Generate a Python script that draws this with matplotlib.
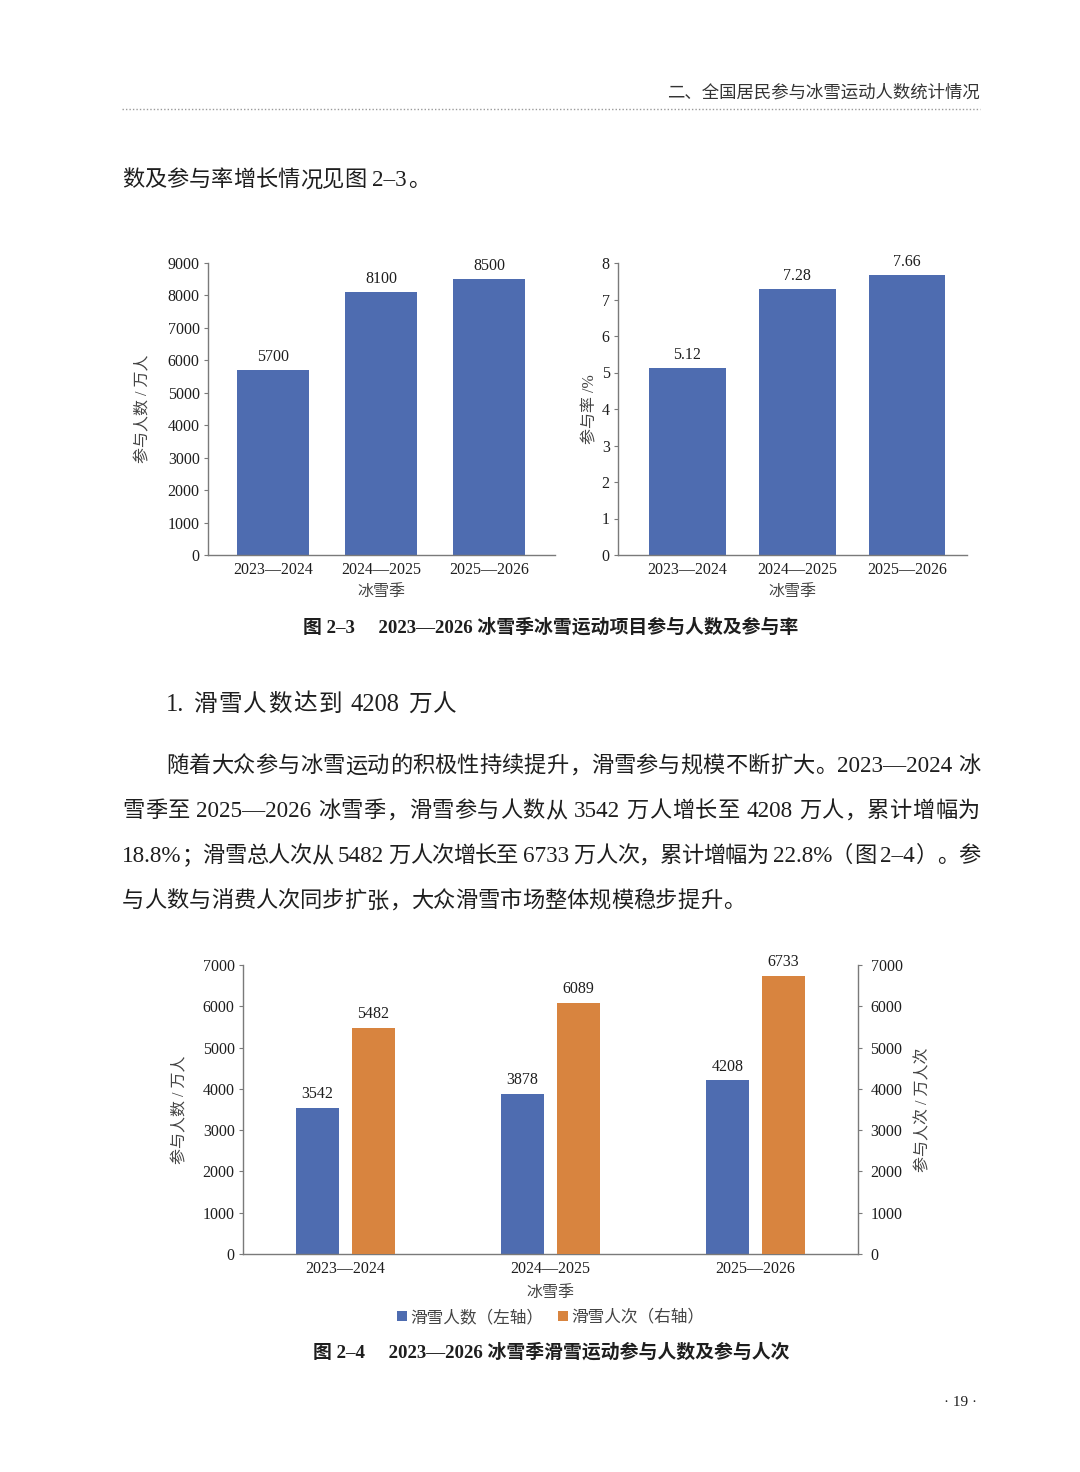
import re
import matplotlib
matplotlib.use('Agg')
import matplotlib.pyplot as plt
from matplotlib.lines import Line2D

plt.rcParams['font.family'] = ['Liberation Serif', 'Noto Sans CJK SC']

# ---------------- data ----------------
seasons = ['2023—2024', '2024—2025', '2025—2026']
participants = [5700, 8100, 8500]          # 万人
participation_rate = [5.12, 7.28, 7.66]    # %
ski_people = [3542, 3878, 4208]            # 万人 (left axis)
ski_visits = [5482, 6089, 6733]            # 万人次 (right axis)
people_ticks = list(range(0, 9001, 1000))
rate_ticks = list(range(0, 9))
ski_ticks = list(range(0, 7001, 1000))

W, H = 1080, 1472
fig = plt.figure(figsize=(W / 100, H / 100), dpi=100)
fig.patch.set_facecolor('white')

BLUE = '#4E6CB0'
ORANGE = '#D8843F'
SPINE = '#7a7a7a'
TXT = '#1e1e1e'
LBL = '#444444'


def fx(px):
    return px / W


def fy(py):
    return 1 - py / H


def rect(l, t, r, b):
    return [fx(l), fy(b), fx(r) - fx(l), fy(t) - fy(b)]


def style(ax, right=False):
    for s in ['top', 'right']:
        ax.spines[s].set_visible(False)
    for s in ['left', 'bottom']:
        ax.spines[s].set_color(SPINE)
        ax.spines[s].set_linewidth(1.0)
    ax.tick_params(axis='y', direction='out', length=3, width=0.8, color=SPINE,
                   labelsize=11.5, labelcolor=TXT, pad=3)
    ax.tick_params(axis='x', length=0, labelsize=11.5, labelcolor=TXT, pad=5)


# ---------------- chart 2-3 left ----------------
ax1 = fig.add_axes(rect(208, 263, 555, 555))
x = list(range(len(seasons)))
b1 = ax1.bar(x, participants, width=0.67, color=BLUE)
ax1.set_xlim(-0.602, 2.611)
ax1.set_ylim(0, 9000)
ax1.set_yticks(people_ticks)
ax1.set_xticks(x)
ax1.set_xticklabels(seasons)
style(ax1)
ax1.bar_label(b1, padding=4, fontsize=11.5, color=TXT)
ax1.set_ylabel('参与人数 / 万人', fontsize=11.5, color=LBL)
ax1.yaxis.set_label_coords(-0.187, 0.5)
ax1.yaxis.label.set_va('center')
ax1.set_xlabel('冰雪季', fontsize=11.5, color=LBL)
ax1.xaxis.set_label_coords(0.5, -0.127)
ax1.xaxis.label.set_va('center')

# ---------------- chart 2-3 right ----------------
ax2 = fig.add_axes(rect(618, 263, 967, 555))
b2 = ax2.bar(x, participation_rate, width=0.70, color=BLUE)
ax2.set_xlim(-0.63, 2.546)
ax2.set_ylim(0, 8)
ax2.set_yticks(rate_ticks)
ax2.set_xticks(x)
ax2.set_xticklabels(seasons)
style(ax2)
ax2.bar_label(b2, padding=4, fontsize=11.5, color=TXT)
ax2.set_ylabel('参与率 /%', fontsize=11.5, color=LBL)
ax2.yaxis.set_label_coords(-0.08, 0.5)
ax2.yaxis.label.set_va('center')
ax2.set_xlabel('冰雪季', fontsize=11.5, color=LBL)
ax2.xaxis.set_label_coords(0.5, -0.127)
ax2.xaxis.label.set_va('center')

# ---------------- chart 2-4 ----------------
ax3 = fig.add_axes(rect(243, 965, 858, 1254))
ax3b = ax3.twinx()
off, bw = 0.136, 0.21
b3 = ax3.bar([i - off for i in x], ski_people, width=bw, color=BLUE, label='滑雪人数（左轴）')
b4 = ax3b.bar([i + off for i in x], ski_visits, width=bw, color=ORANGE, label='滑雪人次（右轴）')
for a in (ax3, ax3b):
    a.set_xlim(-0.5, 2.5)
    a.set_ylim(0, 7000)
    a.set_yticks(ski_ticks)
style(ax3)
ax3.set_xticks(x)
ax3.set_xticklabels(seasons)
for s in ['top', 'left', 'bottom']:
    ax3b.spines[s].set_visible(False)
ax3b.spines['right'].set_color(SPINE)
ax3b.spines['right'].set_linewidth(1.0)
ax3b.tick_params(axis='y', direction='out', length=3, width=0.8, color=SPINE,
                 labelsize=11.5, labelcolor=TXT, pad=6)
ax3.bar_label(b3, padding=4, fontsize=11.5, color=TXT)
ax3b.bar_label(b4, padding=4, fontsize=11.5, color=TXT)
ax3.set_ylabel('参与人数 / 万人', fontsize=11.5, color=LBL)
ax3.yaxis.set_label_coords(-0.102, 0.5)
ax3.yaxis.label.set_va('center')
ax3b.set_ylabel('参与人次 / 万人次', fontsize=11.5, color=LBL, rotation=90)
ax3b.yaxis.set_label_coords(1.107, 0.5)
ax3b.yaxis.label.set_va('center')
ax3.set_xlabel('冰雪季', fontsize=11.5, color=LBL)
ax3.xaxis.set_label_coords(0.5, -0.135)
ax3.xaxis.label.set_va('center')
ax3.legend(handles=[b3, b4], loc='center', bbox_to_anchor=(0.5, -0.221), ncol=2,
           frameon=False, fontsize=12, handlelength=0.6, handleheight=0.6,
           handletextpad=0.2, columnspacing=0.9, labelcolor=LBL)

# ---------------- page text ----------------
fig.canvas.draw()
R = fig.canvas.get_renderer()
TOKEN = re.compile(r'[0-9A-Za-z.%—–\-/]+|\s|.')
LEFT_P = '，。；、）：'
RIGHT_P = '（'


def place(s, x0, yc, fs, x1=None, weight='normal', color=TXT):
    em = fs * 100 / 72
    base = yc + 0.37 * em
    items = []
    for t in TOKEN.findall(s):
        if t.isspace():
            items.append((None, 0.25 * em, None))
        elif ord(t[0]) > 0x2fff:
            txt = fig.text(0, 0, t, fontsize=fs, fontweight=weight, color=color, va='baseline')
            items.append((txt, em, 'cjk'))
        else:
            txt = fig.text(0, 0, t, fontsize=fs * 1.04, color=color, va='baseline')
            w = txt.get_window_extent(R).width
            items.append((txt, w, 'lat'))
    total = sum(w for _, w, _ in items)
    gap = 0 if x1 is None or len(items) < 2 else (x1 - x0 - total) / (len(items) - 1)
    cx = x0
    for txt, w, kind in items:
        if txt is not None:
            t = txt.get_text()
            if kind == 'cjk' and t in LEFT_P:
                txt.set_ha('left'); px = cx + 0.05 * em
            elif kind == 'cjk' and t in RIGHT_P:
                txt.set_ha('right'); px = cx + w - 0.05 * em
            elif kind == 'cjk':
                txt.set_ha('center'); px = cx + w / 2
            else:
                txt.set_ha('left'); px = cx
            txt.set_position((fx(px), fy(base)))
        cx += w + gap


# header
fig.text(fx(980), fy(93), '二、全国居民参与冰雪运动人数统计情况', fontsize=12.5,
         color='#333333', ha='right', va='center')
fig.add_artist(Line2D([fx(122), fx(980)], [fy(109), fy(109)], color='#9a9a9a',
                      lw=1.0, linestyle=(0, (1, 1.5))))

place('数及参与率增长情况见图 2–3。', 122, 178, 16, weight='light')

fig.text(fx(551), fy(627), '图 2–3\u3000 2023—2026 冰雪季冰雪运动项目参与人数及参与率',
         fontsize=13.6, fontweight='bold', ha='center', va='center', color=TXT)

place('1. 滑雪人数达到 4208 万人', 166, 702, 17, x1=457, weight='light')

place('随着大众参与冰雪运动的积极性持续提升，滑雪参与规模不断扩大。2023—2024 冰', 166, 764, 16, x1=980, weight='light')
place('雪季至 2025—2026 冰雪季，滑雪参与人数从 3542 万人增长至 4208 万人，累计增幅为', 122, 809, 16, x1=980, weight='light')
place('18.8%；滑雪总人次从 5482 万人次增长至 6733 万人次，累计增幅为 22.8%（图 2–4）。参', 122, 854, 16, x1=980, weight='light')
place('与人数与消费人次同步扩张，大众滑雪市场整体规模稳步提升。', 122, 899, 16, weight='light')

fig.text(fx(551), fy(1352), '图 2–4\u3000 2023—2026 冰雪季滑雪运动参与人数及参与人次',
         fontsize=13.6, fontweight='bold', ha='center', va='center', color=TXT)

fig.text(fx(960), fy(1402), '· 19 ·', fontsize=11, ha='center', va='center', color=TXT)

fig.savefig('out.png', dpi=100, facecolor='white')
